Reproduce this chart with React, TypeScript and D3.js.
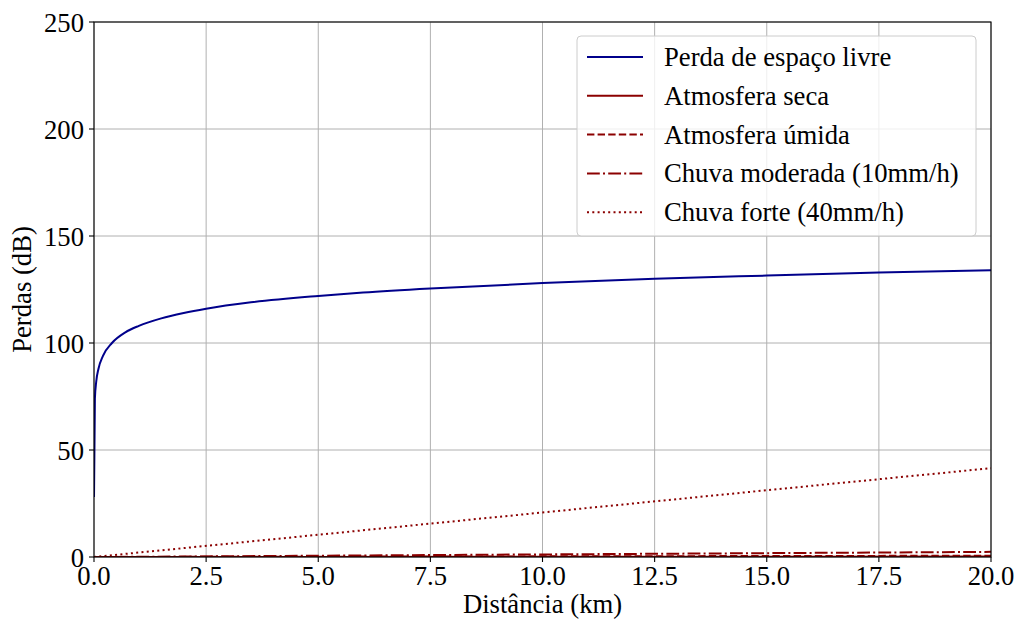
import React from "react";
import * as d3 from "d3";

const distances = [0.0001, 0.02, 0.05, 0.1, 0.2, 0.4, 0.7, 1, 1.5, 2, 2.5, 3.5, 5, 6, 7.5, 10, 12.5, 15, 17.5, 20];
const freeSpace = [28, 74, 82, 88, 94, 100, 105, 108, 111.5, 114, 116, 119, 122, 123.6, 125.5, 128, 130, 131.5, 132.9, 134];

const linDist = [0, 5, 10, 15, 20];
const dryAtm = [0, 0.05, 0.1, 0.15, 0.2];
const wetAtm = [0, 0.15, 0.3, 0.45, 0.6];
const moderateRain = [0, 0.6, 1.2, 1.8, 2.4];
const heavyRain = [0, 10.4, 20.8, 31.2, 41.5];

const xTicks = [0, 2.5, 5, 7.5, 10, 12.5, 15, 17.5, 20];
const yTicks = [0, 50, 100, 150, 200, 250];

const seriesNames = [
  "Perda de espaço livre",
  "Atmosfera seca",
  "Atmosfera úmida",
  "Chuva moderada (10mm/h)",
  "Chuva forte (40mm/h)",
];

const BLUE = "#00008b";
const RED = "#8b0000";
const FONT = "Liberation Serif";

export default function App() {
  const W = 1017, H = 621;
  const m = { l: 94, r: 991, t: 22, b: 557 };
  const x = d3.scaleLinear().domain([0, 20]).range([m.l, m.r]);
  const y = d3.scaleLinear().domain([0, 250]).range([m.b, m.t]);
  const line = d3.line<[number, number]>().x(d => x(d[0])).y(d => y(d[1]));
  const curved = d3.line<[number, number]>().x(d => x(d[0])).y(d => y(d[1])).curve(d3.curveMonotoneX);

  const series = [
    { name: seriesNames[0], path: curved(distances.map((d, i) => [d, freeSpace[i]] as [number, number])), color: BLUE, dash: undefined as string | undefined },
    { name: seriesNames[1], path: line(linDist.map((d, i) => [d, dryAtm[i]] as [number, number])), color: RED, dash: undefined },
    { name: seriesNames[2], path: line(linDist.map((d, i) => [d, wetAtm[i]] as [number, number])), color: RED, dash: "7.4,3.2" },
    { name: seriesNames[3], path: line(linDist.map((d, i) => [d, moderateRain[i]] as [number, number])), color: RED, dash: "12.8,3.2,2,3.2" },
    { name: seriesNames[4], path: line(linDist.map((d, i) => [d, heavyRain[i]] as [number, number])), color: RED, dash: "2,3.3" },
  ];

  const fs = 26.67;
  const legX = 577, legY = 36, legW = 399, legH = 200;
  const rowY = (i: number) => 57 + i * 38.8;

  return (
    <svg width={W} height={H} style={{ position: "absolute", left: 0, top: 0 }}>
      <rect width={W} height={H} fill="#fff" />
      <defs>
        <clipPath id="plot">
          <rect x={m.l} y={m.t} width={m.r - m.l} height={m.b - m.t} />
        </clipPath>
      </defs>
      {xTicks.map(t => (
        <line key={"gx" + t} x1={x(t)} x2={x(t)} y1={m.t} y2={m.b} stroke="#b0b0b0" strokeWidth={1} />
      ))}
      {yTicks.map(t => (
        <line key={"gy" + t} x1={m.l} x2={m.r} y1={y(t)} y2={y(t)} stroke="#b0b0b0" strokeWidth={1} />
      ))}
      <g clipPath="url(#plot)">
        {series.map((s, i) => (
          <path key={i} d={s.path || ""} fill="none" stroke={s.color} strokeWidth={2} strokeDasharray={s.dash} />
        ))}
      </g>
      <rect x={m.l} y={m.t} width={m.r - m.l} height={m.b - m.t} fill="none" stroke="#000" strokeWidth={1.1} />
      <g fontFamily={FONT} fontSize={fs} fill="#000">
        {xTicks.map(t => (
          <g key={"tx" + t}>
            <line x1={x(t)} x2={x(t)} y1={m.b} y2={m.b + 5} stroke="#000" strokeWidth={1.1} />
            <text x={x(t)} y={m.b + 28} textAnchor="middle">{t.toFixed(1)}</text>
          </g>
        ))}
        {yTicks.map(t => (
          <g key={"ty" + t}>
            <line x1={m.l - 5} x2={m.l} y1={y(t)} y2={y(t)} stroke="#000" strokeWidth={1.1} />
            <text x={m.l - 10} y={y(t) + 9.5} textAnchor="end">{t}</text>
          </g>
        ))}
        <text x={(m.l + m.r) / 2} y={613} textAnchor="middle">Distância (km)</text>
        <text transform={`translate(31,${(m.t + m.b) / 2}) rotate(-90)`} textAnchor="middle">Perdas (dB)</text>
        <rect x={legX} y={legY} width={legW} height={legH} rx={4} fill="#fff" fillOpacity={0.8} stroke="#cccccc" strokeWidth={1} />
        {series.map((s, i) => (
          <g key={"lg" + i}>
            <line x1={587} x2={643} y1={rowY(i)} y2={rowY(i)} stroke={s.color} strokeWidth={2} strokeDasharray={s.dash} />
            <text x={664} y={rowY(i) + 9} >{s.name}</text>
          </g>
        ))}
      </g>
    </svg>
  );
}
